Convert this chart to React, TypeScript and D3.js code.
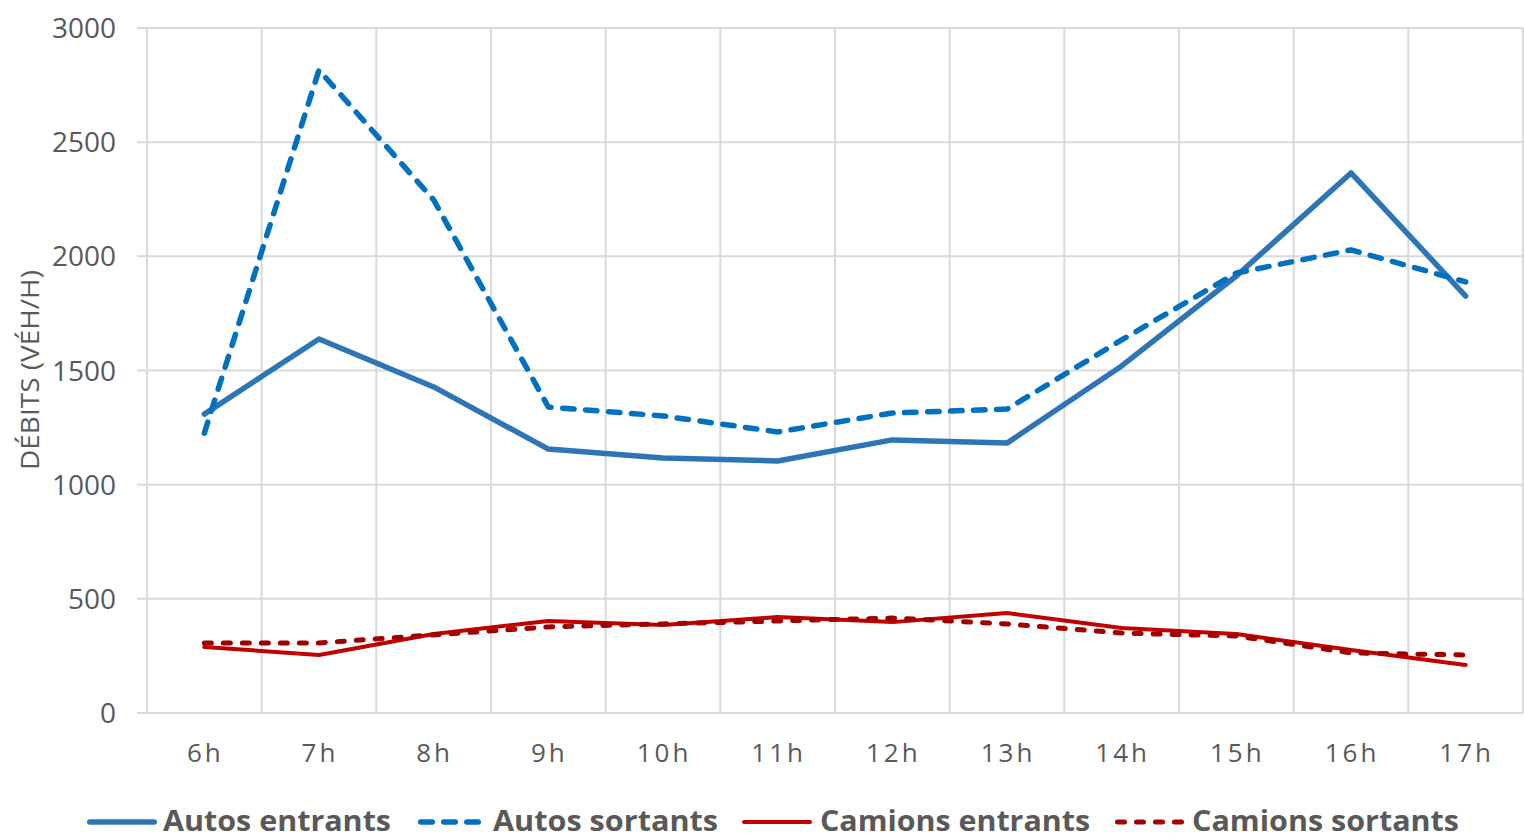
import React from "react";
import * as d3 from "d3";

const hours = ["6h", "7h", "8h", "9h", "10h", "11h", "12h", "13h", "14h", "15h", "16h", "17h"];
const autosEntrants = [1309, 1638, 1428, 1156, 1117, 1104, 1196, 1182, 1520, 1914, 2365, 1826];
const autosSortants = [1226, 2816, 2247, 1340, 1301, 1231, 1314, 1331, 1634, 1927, 2028, 1888];
const camionsEntrants = [289, 254, 346, 403, 385, 420, 398, 438, 372, 346, 276, 210];
const camionsSortants = [307, 307, 342, 377, 390, 403, 416, 390, 350, 337, 263, 254];
const yTicks = [0, 500, 1000, 1500, 2000, 2500, 3000];

const seriesNames = ["Autos entrants", "Autos sortants", "Camions entrants", "Camions sortants"];

const W = 1524, H = 839;
const left = 147, right = 1523, top = 28, bottom = 713;
const FONT = "'Open Sans', 'Noto Sans', sans-serif";
const TXT = "#595959";
const GRID = "#d9d9d9";

export default function App() {
  const x = d3.scaleBand<string>().domain(hours).range([left, right]);
  const y = d3.scaleLinear().domain([0, 3000]).range([bottom, top]);
  const cx = (h: string) => (x(h) as number) + x.bandwidth() / 2;

  const series = [
    { name: seriesNames[0], data: autosEntrants, color: "#2E75B6", width: 5.5, dash: undefined as string | undefined },
    { name: seriesNames[1], data: autosSortants, color: "#0070C0", width: 5.5, dash: "11.5 11.5" },
    { name: seriesNames[2], data: camionsEntrants, color: "#C00000", width: 4, dash: undefined },
    { name: seriesNames[3], data: camionsSortants, color: "#A00000", width: 5, dash: "7 12" },
  ];

  const line = d3.line<number>().x((_, i) => cx(hours[i])).y((d) => y(d));

  const legend = [
    { lx1: 87, lx2: 157, tx: 163, tw: 228 },
    { lx1: 418, lx2: 482, tx: 493, tw: 225 },
    { lx1: 742, lx2: 812, tx: 820, tw: 270 },
    { lx1: 1115, lx2: 1184, tx: 1192, tw: 267 },
  ];

  const boundaries = hours.map((h) => x(h) as number).concat([right]);

  return (
    <svg width={W} height={H} style={{ position: "absolute", left: 0, top: 0, background: "#fff" }}>
      <rect width={W} height={H} fill="#fff" />
      {yTicks.map((t) => (
        <line key={"h" + t} x1={137} x2={right} y1={y(t)} y2={y(t)} stroke={GRID} strokeWidth={2} />
      ))}
      {boundaries.map((b, i) => (
        <line key={"v" + i} x1={b} x2={b} y1={top} y2={bottom} stroke={GRID} strokeWidth={2} />
      ))}
      {yTicks.map((t) => (
        <text key={"yl" + t} x={116} y={y(t)} dy="0.36em" textAnchor="end" fontFamily={FONT} fontSize={28} fill={TXT}>
          {t}
        </text>
      ))}
      {hours.map((h) => (
        <text key={"xl" + h} x={cx(h) + 1} y={762} textAnchor="middle" fontFamily={FONT} fontSize={26} letterSpacing={3} fill={TXT}>
          {h}
        </text>
      ))}
      <text
        transform={`translate(39,370) rotate(-90)`}
        textAnchor="middle"
        fontFamily={FONT}
        fontSize={26}
        fill={TXT}
        textLength={200}
        lengthAdjust="spacingAndGlyphs"
      >
        DÉBITS (VÉH/H)
      </text>
      {series.map((s) => (
        <path
          key={s.name}
          d={line(s.data) || ""}
          fill="none"
          stroke={s.color}
          strokeWidth={s.width}
          strokeDasharray={s.dash}
          strokeLinecap="round"
          strokeLinejoin="round"
        />
      ))}
      {series.map((s, i) => (
        <g key={"lg" + i}>
          <line
            x1={legend[i].lx1 + s.width / 2}
            x2={legend[i].lx2 - s.width / 2}
            y1={822}
            y2={822}
            stroke={s.color}
            strokeWidth={s.width}
            strokeDasharray={s.dash}
            strokeLinecap="round"
          />
          <text
            x={legend[i].tx}
            y={831}
            fontFamily={FONT}
            fontWeight="bold"
            fontSize={28}
            fill={TXT}
            textLength={legend[i].tw}
            lengthAdjust="spacingAndGlyphs"
          >
            {s.name}
          </text>
        </g>
      ))}
    </svg>
  );
}
